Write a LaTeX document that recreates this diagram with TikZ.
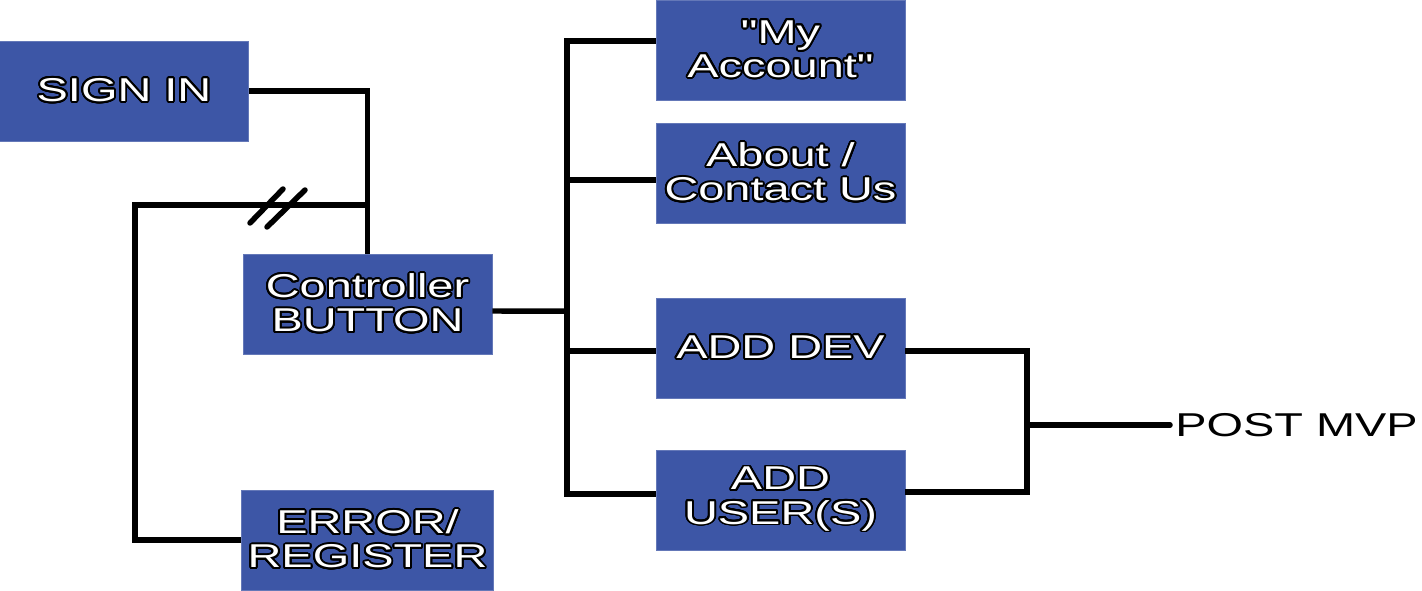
\documentclass[tikz,border=0pt]{standalone}
\usepackage{fontspec}
\setmainfont[FakeStretch=1.42,Ligatures=TeXOff]{Liberation Sans}
\usepackage{contour}
\usepackage{tikz}
\usetikzlibrary{positioning}
\contourlength{1.1pt}
\contournumber{24}
\definecolor{boxblue}{RGB}{61,86,166}
\newcommand{\outl}[1]{\contour{black}{#1}}

\begin{document}
\begin{tikzpicture}[x=0.02cm,y=-0.02cm]
    \tikzset{vertex/.style = {shape=rectangle,fill=boxblue,draw=boxblue!80!white,thin,
        minimum width=4.98cm,minimum height=2cm,align=center,text=white,
        font=\fontsize{18.8}{19.4}\selectfont}}
    \tikzset{edge/.style = {line width=0.11cm}}
    \useasboundingbox (0,0) rectangle (1422,591);
    % vertices
    \node[vertex] (1) at (124,91) {\outl{SIGN IN}};
    \node[vertex] (2) at (367.5,304) {\outl{Controller}\\ \outl{BUTTON}};
    \node[vertex] (3) at (367.5,540) {\outl{ERROR/}\\ \outl{REGISTER}};
    \node[vertex] (4) at (780.5,50) {\outl{"My}\\ \outl{Account"}};
    \node[vertex] (5) at (780.5,173) {\outl{About /}\\ \outl{Contact Us}};
    \node[vertex] (6) at (780.5,348) {\outl{ADD DEV}};
    \node[vertex] (7) at (780.5,500) {\outl{ADD}\\ \outl{USER(S)}};
    \node[anchor=west,inner sep=0.1cm,font=\fontsize{18.8}{19.4}\selectfont] (8) at (1170,425) {POST MVP};
    \coordinate (9) at (135,205);
    \coordinate (10) at (567,311);
    \coordinate (11) at (1027,425);
    % edges
    \draw[edge] (1.east) -| (2.north);
    \draw[edge] (3.west) -| (9) -- (9 -| 2.north);
    \draw[edge,line cap=round] (250,223) -- (283,189);
    \draw[edge,line cap=round] (267,227) -- (305,190);
    \draw[edge] ([yshift=-0.14cm]2.east) -- (10);
    \draw[edge] (10) |- ([yshift=0.18cm]4.west);
    \draw[edge] (10) |- ([yshift=-0.14cm]5.west);
    \draw[edge] (10) |- ([yshift=-0.06cm]6.west);
    \draw[edge] (10) |- ([yshift=0.12cm]7.west);
    \draw[edge] ([yshift=-0.06cm]6.east) -| (11);
    \draw[edge] ([yshift=0.16cm]7.east) -| (11);
    \draw[edge,line cap=round] (11) -- (11 -| 8.west);
\end{tikzpicture}
\end{document}
